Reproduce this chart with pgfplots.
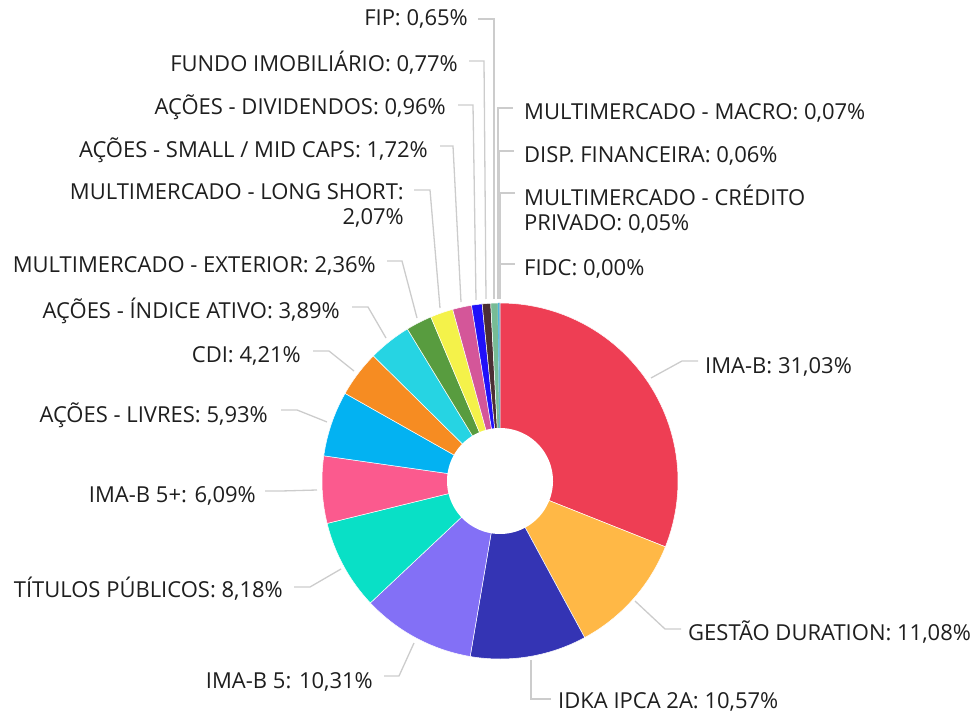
\documentclass[border=0pt]{standalone}
\usepackage{pgfplots}
\pgfplotsset{compat=1.18}
\usepackage{fontspec}
\setmainfont{Open Sans}
\definecolor{cIMAB}{HTML}{EE3E54}
\definecolor{cGEST}{HTML}{FFB846}
\definecolor{cIDKA}{HTML}{3434B4}
\definecolor{cIMAB5}{HTML}{8370F6}
\definecolor{cTIT}{HTML}{09E0C6}
\definecolor{cIMAB5p}{HTML}{FB5A8E}
\definecolor{cLIV}{HTML}{03B2F2}
\definecolor{cCDI}{HTML}{F68C22}
\definecolor{cIND}{HTML}{26D4E3}
\definecolor{cEXT}{HTML}{589C3F}
\definecolor{cLS}{HTML}{F4F24A}
\definecolor{cSMALL}{HTML}{D45699}
\definecolor{cDIV}{HTML}{2010FA}
\definecolor{cFII}{HTML}{4B2E33}
\definecolor{cFIP}{HTML}{77BB95}
\definecolor{cMAC}{HTML}{5BC0DE}
\definecolor{cDISP}{HTML}{3AA9D8}
\definecolor{cCRED}{HTML}{9AB7C7}
\definecolor{cFIDC}{HTML}{888888}
\definecolor{lead}{HTML}{CCCCCC}
\definecolor{txt}{HTML}{1E1E1E}
\tikzset{lab/.style={font=\fontsize{22}{25}\selectfont, text=txt, inner sep=0pt}}
% slice: start %, end %, colour
\newcommand{\slice}[3]{\addplot[fill=#3, draw=white, line width=0.5pt, domain=#1:#2, samples=60, variable=\t] ({178*sin(3.6*\t)},{178*cos(3.6*\t)}) -- (axis cs:0,0) -- cycle;}
\newcommand{\tslice}[3]{\addplot[fill=#3, draw=#3, line width=0.3pt, domain=#1:#2, samples=3, variable=\t] ({178*sin(3.6*\t)},{178*cos(3.6*\t)}) -- (axis cs:0,0) -- cycle;}
\begin{document}
\begin{tikzpicture}
\begin{axis}[
  hide axis, scale only axis, width=976pt, height=713pt,
  xmin=-500, xmax=476, ymin=-232, ymax=481, clip=false,
  leader/.style={draw=lead, line width=1.3pt, no marks},
]
% cumulative percentages, clockwise from 12 o'clock
\slice{0}{31.03}{cIMAB}
\slice{31.03}{42.11}{cGEST}
\slice{42.11}{52.68}{cIDKA}
\slice{52.68}{62.99}{cIMAB5}
\slice{62.99}{71.17}{cTIT}
\slice{71.17}{77.26}{cIMAB5p}
\slice{77.26}{83.19}{cLIV}
\slice{83.19}{87.40}{cCDI}
\slice{87.40}{91.29}{cIND}
\slice{91.29}{93.65}{cEXT}
\slice{93.65}{95.72}{cLS}
\slice{95.72}{97.44}{cSMALL}
\slice{97.44}{98.40}{cDIV}
\slice{98.40}{99.17}{cFII}
\slice{99.17}{99.82}{cFIP}
\tslice{99.82}{99.89}{cMAC}
\tslice{99.89}{99.95}{cDISP}
\tslice{99.95}{100.00}{cCRED}
\addplot[fill=white, draw=none, domain=0:360, samples=120] ({53*sin(x)},{53*cos(x)}) -- cycle;
% leader lines (x = px-500, y = 481-py)
\addplot[leader] coordinates {(151,103) (182,120) (198,120)};
\addplot[leader] coordinates {(135,-120) (165,-148) (181,-148)};
\addplot[leader] coordinates {(31,-179) (31,-218) (51,-218)};
\addplot[leader] coordinates {(-86,-162) (-101,-195) (-116,-195)};
\addplot[leader] coordinates {(-159,-88) (-190,-106) (-206,-106)};
\addplot[leader] coordinates {(-183,-9) (-219,-10) (-235,-10)};
\addplot[leader] coordinates {(-173,59) (-203,71) (-219,71)};
\addplot[leader] coordinates {(-146,110) (-171,130) (-187,130)};
\addplot[leader] coordinates {(-114,143) (-132,174) (-148,174)};
\addplot[leader] coordinates {(-83,163) (-98,220) (-113,220)};
\addplot[leader] coordinates {(-60,173) (-70,291) (-86,291)};
\addplot[leader] coordinates {(-39,179) (-47,335) (-60,335)};
\addplot[leader] coordinates {(-24,181) (-27,376) (-42,376)};
\addplot[leader] coordinates {(-14,182) (-16,420) (-31,420)};
\addplot[leader] coordinates {(-6,182) (-6,462) (-22,462)};
\addplot[leader] coordinates {(-2,182) (-2,373) (13,373)};
\addplot[leader] coordinates {(-1,182) (-1,330) (14,330)};
\addplot[leader] coordinates {(0,182) (0,288) (15,288)};
\addplot[leader] coordinates {(0,182) (0,217) (15,217)};
% labels
\node[lab, anchor=base east] at (axis cs:-32,455) {FIP: 0,65\%};
\node[lab, anchor=base east] at (axis cs:-42,409) {FUNDO IMOBILIÁRIO: 0,77\%};
\node[lab, anchor=base east] at (axis cs:-54,366) {AÇÕES - DIVIDENDOS: 0,96\%};
\node[lab, anchor=base east] at (axis cs:-72,323) {AÇÕES - SMALL / MID CAPS: 1,72\%};
\node[lab, anchor=east, align=right] at (axis cs:-96,276) {MULTIMERCADO - LONG SHORT:\\2,07\%};
\node[lab, anchor=base east] at (axis cs:-124,208) {MULTIMERCADO - EXTERIOR: 2,36\%};
\node[lab, anchor=base east] at (axis cs:-160,162) {AÇÕES - ÍNDICE ATIVO: 3,89\%};
\node[lab, anchor=base east] at (axis cs:-199,119) {CDI: 4,21\%};
\node[lab, anchor=base east] at (axis cs:-232,59) {AÇÕES - LIVRES: 5,93\%};
\node[lab, anchor=base east] at (axis cs:-244,-21) {IMA-B 5+: 6,09\%};
\node[lab, anchor=base east] at (axis cs:-217,-116) {TÍTULOS PÚBLICOS: 8,18\%};
\node[lab, anchor=base east] at (axis cs:-127,-207) {IMA-B 5: 10,31\%};
\node[lab, anchor=base west] at (axis cs:205,108) {IMA-B: 31,03\%};
\node[lab, anchor=base west] at (axis cs:188,-159) {GESTÃO DURATION: 11,08\%};
\node[lab, anchor=base west] at (axis cs:58,-227) {IDKA IPCA 2A: 10,57\%};
\node[lab, anchor=base west] at (axis cs:24,361) {MULTIMERCADO - MACRO: 0,07\%};
\node[lab, anchor=base west] at (axis cs:24,318) {DISP. FINANCEIRA: 0,06\%};
\node[lab, anchor=west, align=left] at (axis cs:24,272) {MULTIMERCADO - CRÉDITO\\PRIVADO: 0,05\%};
\node[lab, anchor=base west] at (axis cs:24,205) {FIDC: 0,00\%};
\path (rel axis cs:0,0) rectangle (rel axis cs:1,1);
\end{axis}
\end{tikzpicture}
\end{document}
